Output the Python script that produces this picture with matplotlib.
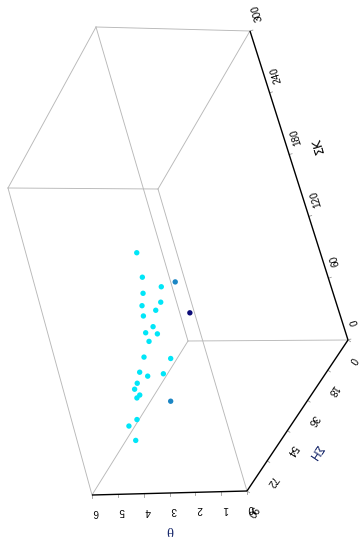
import numpy as np
import matplotlib
matplotlib.use("Agg")
import matplotlib.pyplot as plt

# --- data -------------------------------------------------------------
theta = [5.2, 4.8, 4.1, 3.4, 5.0, 4.3, 5.1, 4.6, 4.9, 2.8, 4.7, 5.3, 4.4, 5.0,
         5.4, 3.9, 5.6, 5.1, 4.2, 5.5, 5.8, 5.2, 5.6, 3.6, 5.3, 5.7, 5.4]
sum_h = [30.0, 37.7, 39.0, 40.8, 36.9, 38.9, 38.2, 38.6, 42.6, 47.2, 41.7, 37.5,
         45.3, 42.0, 41.4, 49.7, 43.6, 47.6, 52.2, 48.9, 46.6, 54.5, 50.1, 62.6,
         59.1, 58.7, 62.0]
sum_k = [134.4, 123.7, 116.6, 124.3, 106.8, 101.5, 97.0, 93.2, 94.4, 104.9, 82.5,
         69.7, 81.5, 68.8, 52.7, 64.8, 41.8, 44.5, 54.2, 39.9, 30.4, 37.7, 27.7,
         44.6, 21.6, 14.8, 6.2]
level = ["high", "high", "high", "mid", "high", "high", "high", "high", "high",
         "low", "high", "high", "high", "high", "high", "high", "high", "high",
         "high", "high", "high", "high", "high", "mid", "high", "high", "high"]

theta_ticks = [0, 1, 2, 3, 4, 5, 6]
h_ticks = [0, 18, 36, 54, 72, 90]
k_ticks = [0, 60, 120, 180, 240, 300]

palette = {"high": "#00e6f8", "mid": "#1c86c4", "low": "#0c0c78"}

T_LIM = (0.0, 6.0)
H_LIM = (0.0, 90.0)
K_LIM = (0.0, 300.0)

# screen position of each box corner, indexed [theta end][H end][K end]
CORNERS = np.zeros((2, 2, 2, 2))
CORNERS[0, 0, 0] = (348, 340)
CORNERS[1, 0, 0] = (188, 341)
CORNERS[0, 1, 0] = (247, 491)
CORNERS[1, 1, 0] = (92, 495)
CORNERS[0, 0, 1] = (250, 31)
CORNERS[1, 0, 1] = (96, 27)
CORNERS[0, 1, 1] = (158, 189)
CORNERS[1, 1, 1] = (8, 188)


def project(t, h, k):
    """Map (theta, sum H, sum K) into the view box by trilinear blending."""
    u = (np.asarray(t, float) - T_LIM[0]) / (T_LIM[1] - T_LIM[0])
    v = (np.asarray(h, float) - H_LIM[0]) / (H_LIM[1] - H_LIM[0])
    w = (np.asarray(k, float) - K_LIM[0]) / (K_LIM[1] - K_LIM[0])
    out = 0.0
    for i in (0, 1):
        for j in (0, 1):
            for l in (0, 1):
                wt = (u if i else 1 - u) * (v if j else 1 - v) * (w if l else 1 - w)
                out = out + np.multiply.outer(wt, CORNERS[i, j, l])
    return out


fig = plt.figure(figsize=(3.61, 5.37), dpi=100)
ax = fig.add_axes([0, 0, 1, 1])
ax.set_xlim(0, 361)
ax.set_ylim(537, 0)
ax.axis("off")

# box edges
axis_edges = {((0, 0, 0), (0, 1, 0)), ((0, 1, 0), (1, 1, 0)), ((0, 0, 0), (0, 0, 1))}
for i in (0, 1):
    for j in (0, 1):
        for l in (0, 1):
            a = (i, j, l)
            for d in range(3):
                if a[d] == 0:
                    b = list(a)
                    b[d] = 1
                    b = tuple(b)
                    p, q = CORNERS[a], CORNERS[b]
                    if (a, b) in axis_edges:
                        ax.plot([p[0], q[0]], [p[1], q[1]], color="black", lw=1.0,
                                solid_capstyle="butt", zorder=3)
                    else:
                        ax.plot([p[0], q[0]], [p[1], q[1]], color="#b8b8b8", lw=0.65,
                                zorder=1)

tick_font = dict(family="Liberation Sans", fontsize=7.2, color="black")

# theta axis (front lower edge)
for t in theta_ticks:
    x, y = project(t, H_LIM[1], K_LIM[0])
    ax.plot([x, x], [y, y + 3], color="#9a9a9a", lw=0.6, zorder=2)
    ax.text(x + 4, y + 17, str(t), rotation=180, ha="center", va="center", **tick_font)
ax.text(170, 529, "θ", rotation=180, ha="center", va="center",
        family="Liberation Serif", fontsize=10.5, color="#1a2a6c")

# sum H axis
hx, hy = CORNERS[0, 1, 0] - CORNERS[0, 0, 0]
hn = np.array([-hy, hx]) / np.hypot(hx, hy)
if hn[0] < 0:
    hn = -hn
for h in h_ticks:
    x, y = project(T_LIM[0], h, K_LIM[0])
    ax.plot([x, x + 3 * hn[0]], [y, y + 3 * hn[1]], color="#9a9a9a", lw=0.6, zorder=2)
    ax.text(x + 5, y + 20, str(h), rotation=-124, ha="center", va="center", **tick_font)
ax.text(314, 453, "ΣH", rotation=-124, ha="center", va="center",
        family="DejaVu Sans", fontsize=8.5, color="#1a2a6c")

# sum K axis
kx, ky = CORNERS[0, 0, 1] - CORNERS[0, 0, 0]
kn = np.array([-ky, kx]) / np.hypot(kx, ky)
if kn[0] < 0:
    kn = -kn
for k in k_ticks:
    x, y = project(T_LIM[0], H_LIM[0], k)
    ax.plot([x, x + 3 * kn[0]], [y, y + 3 * kn[1]], color="#9a9a9a", lw=0.6, zorder=2)
    ax.text(x + 7, y - 18, str(k), rotation=107, ha="center", va="center", **tick_font)
ax.text(318, 145, "ΣK", rotation=107, ha="center", va="center",
        family="DejaVu Sans", fontsize=9, color="black")

# points
pts = project(theta, sum_h, sum_k)
ax.scatter(pts[:, 0], pts[:, 1], s=15, c=[palette[g] for g in level],
           edgecolors="none", zorder=4)

fig.savefig("out.png", dpi=100)
